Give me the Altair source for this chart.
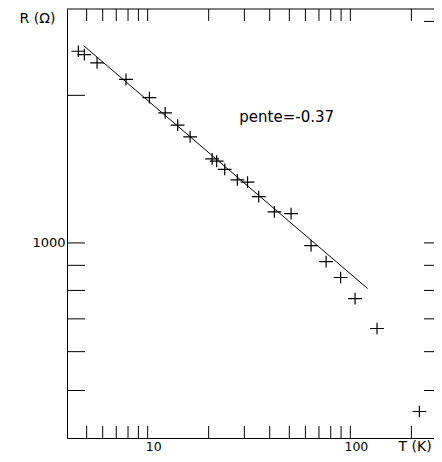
import altair as alt
import pandas as pd

T = [4.55, 4.87, 5.63, 7.82, 10.2, 12.2, 14.06, 16.2, 20.8, 21.9, 24.0, 27.7,
     31.1, 35.3, 42.2, 51.0, 64.0, 75.9, 89.5, 105.5, 135.4, 219]
R = [2460, 2422, 2330, 2155, 1979, 1841, 1739, 1646, 1484, 1469, 1413, 1344,
     1330, 1243, 1157, 1147, 987, 916, 850, 770, 669, 453]

# Fitted straight line (log-log), slope -0.37
fit_T = [4.83, 121.7]
fit_R = [2526, 807]

slope_label = ["pente=-0.37"]
slope_T = [48.5]
slope_R = [1807]

x_ticks = [5, 6, 7, 8, 9, 10, 20, 30, 40, 50, 60, 70, 80, 90, 100, 200]
x_labels = [10, 100]
y_ticks_left = [2000, 1000, 900, 800, 700, 600, 500]
y_ticks_right = [2830, 1000, 900, 800, 700, 600, 500]
y_labels = [1000]

W, H = 367, 429
FONT = "DejaVu Sans"

xs = alt.Scale(type="log", domain=[4, 258.6], nice=False)
ys = alt.Scale(type="log", domain=[400, 3000], nice=False)

pts = pd.DataFrame({"T": T, "R": R})
fit = pd.DataFrame({"T": fit_T, "R": fit_R})
lab = pd.DataFrame({"T": slope_T, "R": slope_R, "txt": slope_label})
xt = pd.DataFrame({"T": x_ticks})
ytl = pd.DataFrame({"R": y_ticks_left})
ytr = pd.DataFrame({"R": y_ticks_right})

x_axis = alt.Axis(values=x_labels, format="d", ticks=False, tickSize=0, grid=False,
                  domain=True, domainColor="black", domainWidth=1,
                  labelFont=FONT, labelFontSize=12.5, labelColor="black",
                  labelBaseline="alphabetic", labelPadding=12.5, labelOffset=5.5,
                  title="T (K)", titleFont=FONT, titleFontSize=14,
                  titleFontWeight="normal", titleColor="black",
                  titleAngle=0, titleAlign="left", titleBaseline="alphabetic",
                  titleX=331, titleY=12.5)
y_axis = alt.Axis(values=y_labels, format="d", ticks=False, tickSize=0, grid=False,
                  domain=True, domainColor="black", domainWidth=1,
                  labelFont=FONT, labelFontSize=13, labelColor="black",
                  labelPadding=2,
                  title="R (Ω)", titleFont=FONT, titleFontSize=14,
                  titleFontWeight="normal", titleColor="black",
                  titleAngle=0, titleAlign="center", titleBaseline="middle",
                  titleX=-30, titleY=9)

X = alt.X("T:Q", scale=xs, axis=x_axis)
Y = alt.Y("R:Q", scale=ys, axis=y_axis)

plus = "M-1,0H1M0,-0.85V0.85"

points = alt.Chart(pts).mark_point(shape=plus, size=190, filled=False,
                                    stroke="black", strokeWidth=1.2, opacity=1).encode(x=X, y=Y)

line = alt.Chart(fit).mark_line(color="black", strokeWidth=1).encode(x=X, y=Y)

text = alt.Chart(lab).mark_text(font=FONT, fontSize=15, color="black",
                                align="center", baseline="middle").encode(
    x=X, y=Y, text="txt:N",
)

tick_style = dict(color="black", strokeWidth=1)

bottom_ticks = alt.Chart(xt).mark_rule(**tick_style).encode(
    x=X, y=alt.value(H), y2=alt.value(H - 12),
)
top_ticks = alt.Chart(xt).mark_rule(**tick_style).encode(
    x=X, y=alt.value(0), y2=alt.value(12),
)
left_ticks = alt.Chart(ytl).mark_rule(**tick_style).encode(
    y=Y, x=alt.value(0), x2=alt.value(18),
)
right_ticks = alt.Chart(ytr).mark_rule(**tick_style).encode(
    y=Y, x=alt.value(W - 10), x2=alt.value(W),
)
top_frame = alt.Chart(pd.DataFrame({"v": [0]})).mark_rule(**tick_style).encode(
    x=alt.value(0), x2=alt.value(W), y=alt.value(0),
)

chart = alt.layer(
    points, line, text, bottom_ticks, top_ticks, left_ticks, right_ticks, top_frame,
).properties(
    width=W, height=H,
    padding={"left": 59, "top": 1, "right": 0, "bottom": 16},
    autosize=alt.AutoSizeParams(type="none"),
    background="white",
).configure_view(stroke=None)

chart.save("out.html", embed_options={"renderer": "svg", "actions": False})
